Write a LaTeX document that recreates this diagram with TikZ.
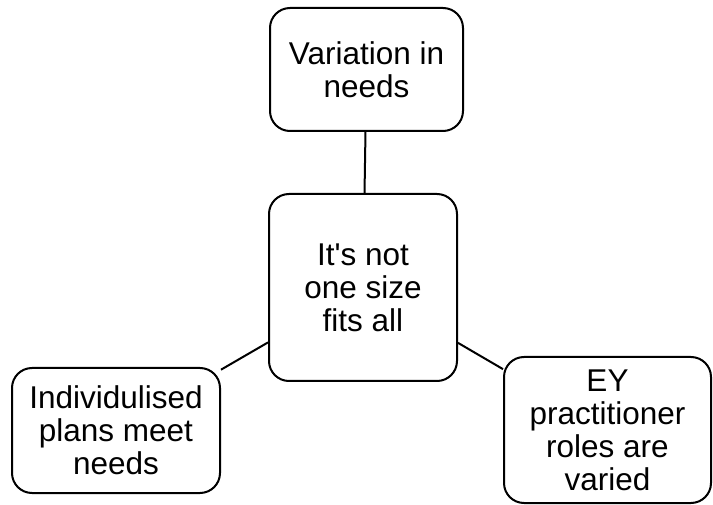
\documentclass[tikz,border=0pt]{standalone}
\usepackage{fontspec}
\setmainfont{Liberation Sans}
\begin{document}
\begin{tikzpicture}[x=1pt,y=1pt,
  topic/.style={draw=black, line width=2pt, rounded corners=20pt, fill=white,
    align=center, inner sep=0pt,
    font=\fontsize{31.5}{33}\selectfont},
  link/.style={draw=black, line width=2pt}]
  \useasboundingbox (0,0) rectangle (713,504);
  \node[topic, minimum width=193pt, minimum height=123pt] (need) at (366.5,434.5) {Variation in\\needs};
  \node[topic, minimum width=188pt, minimum height=187pt] (core) at (363,216.5) {It\textquotesingle s not\\one size\\fits all};
  \node[topic, minimum width=208pt, minimum height=125pt] (plan) at (116,73.5) {Individulised\\plans meet\\needs};
  \node[topic, minimum width=207pt, minimum height=146pt] (role) at (607.5,74) {EY\\practitioner\\roles are\\varied};
  \draw[link] (need) -- (core);
  \draw[link] (plan) -- (core);
  \draw[link] (role) -- (core);
\end{tikzpicture}
\end{document}
